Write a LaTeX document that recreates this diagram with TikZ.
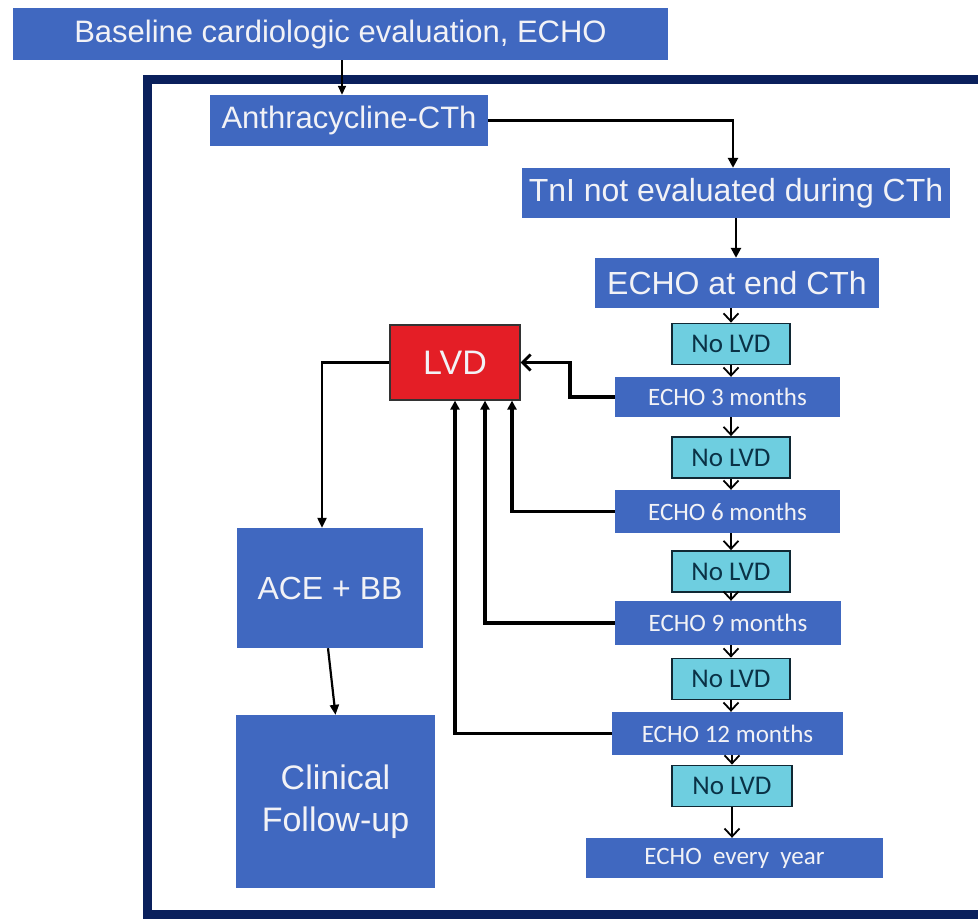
\documentclass[tikz,border=0pt]{standalone}
\usepackage{fontspec}
\setmainfont{Liberation Sans}
\newfontfamily\calfont{Carlito}
\usetikzlibrary{arrows.meta,calc}
\definecolor{boxblue}{RGB}{64,104,192}
\definecolor{framenavy}{RGB}{10,32,92}
\definecolor{nolvdcyan}{RGB}{110,206,224}
\definecolor{nolvdline}{RGB}{16,40,52}
\definecolor{nolvdtext}{RGB}{10,50,70}
\definecolor{lvdred}{RGB}{228,30,38}
\definecolor{boxtext}{RGB}{242,242,246}
\tikzset{
  bluebox/.style={fill=boxblue, draw=none, text=boxtext, inner sep=0pt, align=center},
  bigtext/.style={font=\fontsize{31}{36}\selectfont},
  smalltext/.style={font=\calfont\fontsize{25}{30}\selectfont},
  nolvd/.style={fill=nolvdcyan, draw=nolvdline, line width=1.8pt, text=nolvdtext, inner sep=0pt,
     minimum width=118pt, minimum height=41pt, font=\calfont\fontsize{27}{30}\selectfont},
  feed/.style={line width=3.6pt, -{Triangle[length=9pt,width=9pt]}},
  feedbarb/.style={line width=3.6pt, -{Straight Barb[length=8pt,width=16pt,line width=2.8pt]}},
  chain/.style={line width=1.8pt, -{Straight Barb[length=8pt,width=15pt,line width=1.8pt]}},
  thinarrow/.style={line width=1.5pt, -{Triangle[length=9pt,width=8pt]}},
  medarrow/.style={line width=2.2pt, -{Triangle[length=10pt,width=9pt]}},
  midarrow/.style={line width=2.6pt, -{Triangle[length=10pt,width=10pt]}}
}
\begin{document}
\begin{tikzpicture}[x=1pt,y=-1pt]
\useasboundingbox (0,0) rectangle (978,919);
\clip (0,0) rectangle (978,919);
% outer frame
\draw[framenavy, line width=9pt] (147.5,79.5) rectangle (1000,914.5);

\node[bluebox, bigtext, minimum width=655pt, minimum height=52pt] (base) at (340.5,34) {Baseline cardiologic evaluation, ECHO};
\node[bluebox, bigtext, minimum width=278pt, minimum height=51pt] (anthra) at (349,120.5) {Anthracycline-CTh};
\node[bluebox, font=\fontsize{32}{36}\selectfont, minimum width=428pt, minimum height=50pt] (tni) at (736,193) {TnI not evaluated during CTh};
\node[bluebox, font=\fontsize{32}{36}\selectfont, minimum width=284pt, minimum height=50pt] (echoend) at (737,283) {ECHO at end CTh};

\node[nolvd] (no1) at (731,344) {No LVD};
\node[bluebox, smalltext, minimum width=225pt, minimum height=40pt] (e3) at (727.5,397) {ECHO 3 months};
\node[nolvd] (no2) at (731,457.5) {No LVD};
\node[bluebox, smalltext, minimum width=225pt, minimum height=43pt] (e6) at (727.5,511.5) {ECHO 6 months};
\node[nolvd] (no3) at (731,571.5) {No LVD};
\node[bluebox, smalltext, minimum width=226pt, minimum height=44pt] (e9) at (728,623) {ECHO 9 months};
\node[nolvd] (no4) at (731,679) {No LVD};
\node[bluebox, smalltext, minimum width=231pt, minimum height=43pt] (e12) at (727.5,733.5) {ECHO 12 months};
\node[nolvd, minimum width=120pt] (no5) at (732,786) {No LVD};
\node[bluebox, smalltext, minimum width=297pt, minimum height=40pt] (eyear) at (734.5,858) {ECHO\ \ every\ \ year};

\node[fill=lvdred, draw=black!80, line width=1.2pt, text=boxtext, inner sep=0pt, minimum width=130pt, minimum height=75pt,
      font=\fontsize{34}{38}\selectfont] (lvd) at (455,362.5) {LVD};
\node[bluebox, font=\fontsize{32}{36}\selectfont, minimum width=186pt, minimum height=120pt] (ace) at (330,588) {ACE + BB};
\node[bluebox, font=\fontsize{34}{42}\selectfont, minimum width=199pt, minimum height=173pt] (clin) at (335.5,801.5) {Clinical\\Follow-up};

% main arrows
\draw[thinarrow] (base.south -| 342,0) -- (anthra.north -| 342,0);
\draw[midarrow] (anthra.east) -| (tni.north -| 733,0);
\draw[midarrow] (tni.south -| 736,0) -- (echoend.north -| 736,0);

% chain
\draw[chain] (echoend.south -| no1) -- (no1.north);
\draw[chain] (no1.south) -- (e3.north -| no1);
\draw[chain] (e3.south -| no2) -- (no2.north);
\draw[chain] (no2.south) -- (e6.north -| no2);
\draw[chain] (e6.south -| no3) -- (no3.north);
\draw[chain] (no3.south) -- (e9.north -| no3);
\draw[chain] (e9.south -| no4) -- (no4.north);
\draw[chain] (no4.south) -- (e12.north -| no4);
\draw[chain] (e12.south -| no5) -- (no5.north);
\draw[chain] (no5.south) -- (eyear.north -| no5);

% feedback to LVD
\draw[feedbarb] (e3.west) -- ++(-45,0) |- (lvd.east);
\draw[feed] (e6.west) -| ([xshift=57pt]lvd.south);
\draw[feed] (e9.west) -| ([xshift=30pt]lvd.south);
\draw[feed] (e12.west) -| (lvd.south);

% LVD to treatment
\draw[medarrow] (lvd.west) -| ([xshift=-8pt]ace.north);
\draw[medarrow] ([xshift=-2pt]ace.south) -- (clin.north);
\end{tikzpicture}
\end{document}
